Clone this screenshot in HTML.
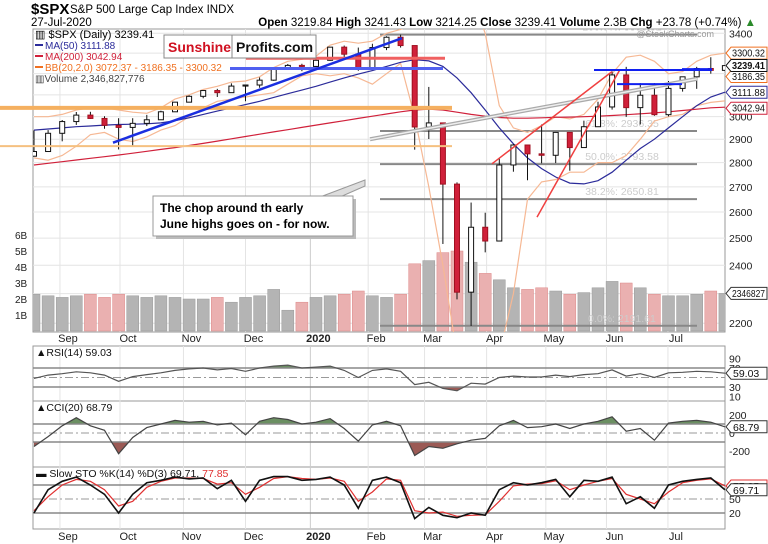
<!DOCTYPE html>
<html><head><meta charset="utf-8"><style>
body{margin:0;background:#fff;width:768px;height:544px;overflow:hidden;font-family:"Liberation Sans",sans-serif}
svg{display:block}
text{font-family:"Liberation Sans",sans-serif}
</style></head><body>
<svg id="c" width="768" height="544" viewBox="0 0 768 544" xmlns="http://www.w3.org/2000/svg">
<text x="31" y="14" font-size="15" font-weight="bold">$SPX</text>
<text x="70" y="13" font-size="11.5">S&amp;P 500 Large Cap Index  INDX</text>
<text x="31" y="26" font-size="11.5">27-Jul-2020</text>
<text x="756" y="26" font-size="11.5" text-anchor="end"><tspan font-weight="bold">Open</tspan> 3219.84 <tspan font-weight="bold">High</tspan> 3241.43 <tspan font-weight="bold">Low</tspan> 3214.25 <tspan font-weight="bold">Close</tspan> 3239.41 <tspan font-weight="bold">Volume</tspan> 2.3B <tspan font-weight="bold">Chg</tspan> +23.78 (+0.74%) <tspan fill="#2a8a2a">▲</tspan></text>
<g id="main"></g>
</svg>
<script>
const weeks=["Aug23","Aug30","Sep6","Sep13","Sep20","Sep27","Oct4","Oct11","Oct18","Oct25","Nov1","Nov8","Nov15","Nov22","Nov29","Dec6","Dec13","Dec20","Dec27","Jan3","Jan10","Jan17","Jan24","Jan31","Feb7","Feb14","Feb21","Feb28","Mar6","Mar13","Mar20","Mar27","Apr3","Apr9","Apr17","Apr24","May1","May8","May15","May22","May29","Jun5","Jun12","Jun19","Jun26","Jul2","Jul10","Jul17","Jul24","Jul27"];
const closes=[2847,2926,2978,3007,2992,2961,2952,2970,2986,3022,3066,3093,3120,3110,3141,3146,3169,3221,3240,3235,3265,3330,3295,3226,3328,3380,3338,2954,2972,2711,2305,2541,2489,2790,2875,2837,2831,2930,2864,2955,3044,3194,3041,3098,3009,3130,3185,3225,3216,3239];
const highs=[2939,2940,2985,3021,3022,3002,2993,2993,3008,3027,3066,3098,3120,3128,3154,3148,3182,3226,3247,3248,3282,3330,3338,3328,3347,3385,3393,3260,3137,2882,2718,2637,2597,2818,2879,2844,2965,2932,2924,2982,3068,3211,3233,3155,3155,3165,3186,3233,3280,3241];
const lows=[2834,2853,2891,2963,2990,2946,2856,2873,2958,2992,3024,3066,3084,3090,3113,3070,3133,3166,3218,3212,3215,3263,3280,3214,3224,3315,3328,2855,2901,2478,2280,2191,2447,2619,2762,2727,2797,2798,2766,2913,2956,3032,2999,2965,3004,3001,3115,3128,3200,3214];
const volumes=[2.3,2.2,2.1,2.2,2.3,2.1,2.3,2.2,2.1,2.2,2.1,2.0,2.0,2.1,1.8,2.1,2.2,2.6,1.3,1.8,2.1,2.2,2.3,2.5,2.2,2.1,2.3,4.2,4.4,4.9,5.0,4.3,3.6,3.2,2.7,2.6,2.7,2.5,2.3,2.4,2.7,3.1,3.0,2.7,2.3,2.2,2.2,2.3,2.5,2.35];
const ma50=[2940,2945,2950,2955,2958,2962,2965,2966,2968,2972,2982,2995,3010,3025,3040,3055,3070,3088,3105,3122,3140,3160,3180,3198,3215,3235,3255,3268,3262,3235,3180,3110,3030,2950,2880,2820,2775,2740,2715,2712,2725,2760,2810,2860,2900,2950,3000,3050,3090,3112];
const ma200=[2790,2797,2804,2811,2818,2825,2832,2840,2848,2856,2864,2873,2882,2892,2902,2912,2922,2932,2942,2952,2962,2972,2982,2992,3002,3012,3022,3030,3034,3030,3020,3010,3002,2996,2993,2993,2995,2997,2998,3000,3002,3005,3009,3013,3017,3022,3028,3034,3040,3043];
const bbUpper=[3000,3000,3010,3030,3040,3040,3030,3020,3015,3040,3080,3100,3125,3140,3160,3165,3185,3230,3260,3270,3285,3340,3360,3350,3360,3400,3420,3450,3550,3650,3700,3600,3400,3050,2950,2930,2960,3000,2990,3010,3080,3200,3280,3290,3260,3200,3210,3260,3290,3300];
const bbLower=[2820,2810,2830,2870,2920,2930,2900,2890,2910,2940,2960,3000,3040,3070,3080,3090,3100,3110,3150,3190,3200,3190,3200,3180,3150,3200,3250,3000,2700,2400,2100,2000,1950,2100,2300,2650,2720,2730,2760,2760,2800,2800,2830,2900,2980,3000,3010,3050,3065,3072];
const rsi=[48,55,58,62,60,55,42,52,56,60,65,68,70,66,69,63,70,74,76,70,72,74,65,50,65,68,63,35,40,27,22,38,36,50,53,51,51,55,52,56,58,66,53,58,50,60,61,63,62,59];
const cci=[-150,-40,80,170,80,30,-230,-50,60,100,140,120,130,90,110,-20,130,170,150,100,120,160,50,-90,90,130,80,-250,-150,-170,-120,-80,-60,80,140,60,70,100,50,100,130,180,20,50,-80,110,130,140,120,69];
const stoK=[20,70,88,97,80,60,20,60,85,90,97,93,95,72,90,45,90,98,98,90,92,97,80,30,90,97,85,8,32,15,10,20,15,70,85,80,85,92,55,90,88,97,40,55,30,80,88,92,95,70];
const stoD=[25,55,80,92,88,70,35,45,75,88,95,95,94,82,85,60,75,94,98,94,92,95,88,45,65,93,90,25,20,22,13,15,16,45,78,82,83,89,70,80,88,94,60,50,40,65,85,90,93,78];
const monthLabels=["Sep","Oct","Nov","Dec","2020","Feb","Mar","Apr","May","Jun","Jul"];
const monthPos=[1.84,6.1,10.6,15.0,19.6,23.7,27.7,32.1,36.3,40.6,44.96];
const priceTicks=[2200,2300,2400,2500,2600,2700,2800,2900,3000,3100,3200,3300,3400];
const volTicks=[1,2,3,4,5,6];
const fibLevels=[3393.52,2936.35,2793.58,2650.81,2191.61];
const fibLabels=["100.0%: 3393.52","61.8%: 2936.35","50.0%: 2793.58","38.2%: 2650.81","0.0%: 2191.61"];

const NS="http://www.w3.org/2000/svg";
const g=document.getElementById('main');
const L=33,R=725,TOP=29;
function xs(i){return 34+i*14.1;}
function ys(p){return 33.3+666*Math.log(3400/p);}
function yv(v){return 331-16*v;}
function mk(tag,attrs,parent){const e=document.createElementNS(NS,tag);for(const k in attrs)e.setAttribute(k,attrs[k]);(parent||g).appendChild(e);return e;}
function tx(s,attrs,parent){const e=mk('text',attrs,parent);e.textContent=s;return e;}
function pathOf(arr,xf,yf){return arr.map((v,i)=>(i?'L':'M')+xf(i).toFixed(1)+' '+yf(v).toFixed(1)).join(' ');}

const defs=mk('defs',{});
const cp=mk('clipPath',{id:'mainclip'},defs);mk('rect',{x:L,y:TOP,width:R-L,height:332-TOP},cp);

const panels=[[TOP,332],[346,401],[401,467],[467,529]];
panels.forEach((p,k)=>{const r=mk('rect',{x:L,y:p[0],width:R-L,height:p[1]-p[0],fill:'#fff',stroke:'#999','stroke-width':1});

});

const grid=mk('g',{stroke:'#e4e4e4','stroke-width':1});


priceTicks.forEach(p=>{mk('line',{x1:L,x2:R,y1:ys(p),y2:ys(p)},grid);});
monthPos.forEach((m,i)=>{panels.forEach(p=>mk('line',{x1:xs(m),x2:xs(m),y1:p[0],y2:p[1],stroke:i==4?'#ccc':'#e4e4e4'},grid));});

priceTicks.forEach(p=>{if([3100,3200,3300].includes(p))return;const t=tx(String(p),{x:729,y:ys(p)+4,'font-size':10.5,fill:'#222'});

});
volTicks.forEach(v=>{const t=tx(v+'B',{x:15,y:yv(v)+4,'font-size':10,fill:'#222'});

});
monthLabels.forEach((m,i)=>{[339,537].forEach(yy=>{const t=tx(m,{x:xs(monthPos[i])+8,y:yy+3,'font-size':11,'text-anchor':'middle','font-weight':i==4?'bold':'normal',fill:'#222'});

});});

const mg=mk('g',{'clip-path':'url(#mainclip)'});
volumes.forEach((v,i)=>{const up=i==0||closes[i]>=closes[i-1];const b=mk('rect',{x:xs(i)-6,y:yv(v),width:12,height:331-yv(v),fill:up?'#b4b4b4':'#eab0b0',stroke:up?'#999':'#d88',"stroke-width":0.5},mg);

});
fibLevels.forEach((f,i)=>{const l=mk('line',{x1:380,x2:697,y1:ys(f),y2:ys(f),stroke:'#888','stroke-width':2},mg);


const t=tx(fibLabels[i],{x:622,y:ys(f)-4,'font-size':10.5,fill:'#ccc','text-anchor':'middle'},mg);

});
[[bbUpper,'bb-upper'],[bbLower,'bb-lower']].forEach(a=>{const p=mk('path',{d:pathOf(a[0],xs,ys),fill:'none',stroke:'#f6b894','stroke-width':1.2},mg);

});
const p50=mk('path',{d:pathOf(ma50,xs,ys),fill:'none',stroke:'#2b2b9a','stroke-width':1.2},mg);


const p200=mk('path',{d:pathOf(ma200,xs,ys),fill:'none',stroke:'#d0203a','stroke-width':1.2},mg);


function ann(x1,p1,x2,p2,col,w,name){const l=mk('line',{x1:x1,y1:ys(p1),x2:x2,y2:ys(p2),stroke:col,'stroke-width':w},g);}
ann(0,3040,452,3040,'#f5b060',4,'support-band');
ann(0,2870,452,2870,'#f5c080',2,'support-line');
ann(246,3275,445,3275,'#f06060',3,'resistance-line');
ann(230,3225,443,3225,'#5060f0',3,'support-line-blue');
ann(113,2885,402,3375,'#1a2ee0',2.5,'trend-line');
ann(370,2900,697,3175,'#aaa',4,'wedge-line');
ann(370,2900,697,3175,'#eee',1.5,'wedge-line-inner');
ann(492,2795,612,3210,'#f04040',1.5,'rally-line-1');
ann(537,2580,620,3220,'#f04040',1.5,'rally-line-2');
ann(594,3218,712,3218,'#1020f0',2,'june-high-line');
ann(617,3150,682,3150,'#1020f0',2,'june-range-line');
ann(682,3222,712,3222,'#1020f0',2,'july-line');
closes.forEach((c,i)=>{const o=i?closes[i-1]:c-20;const up=c>=o;const x=xs(i);
const w=mk('line',{x1:x,x2:x,y1:ys(highs[i]),y2:ys(lows[i]),stroke:'#111','stroke-width':1},mg);


const top=ys(Math.max(o,c)),bot=ys(Math.min(o,c));
const b=mk('rect',{x:x-2.5,y:top,width:5,height:Math.max(1,bot-top),fill:up?'#fff':'#d0203a',stroke:up?'#111':'#a01020','stroke-width':1},mg);

});

const lg=mk('g',{'font-size':10});


tx('▥ $SPX (Daily) 3239.41',{x:35,y:38,'font-family':'Liberation Mono','font-size':11},lg);
mk('rect',{x:35,y:44,width:8,height:2,fill:'#2b2b9a'},lg);tx('MA(50) 3111.88',{x:45,y:49,fill:'#2b2b9a'},lg);
mk('rect',{x:35,y:55,width:8,height:2,fill:'#d0203a'},lg);tx('MA(200) 3042.94',{x:45,y:60,fill:'#d0203a'},lg);
mk('rect',{x:35,y:66,width:8,height:2,fill:'#f07020'},lg);tx('BB(20,2.0) 3072.37 - 3186.35 - 3300.32',{x:45,y:71,fill:'#f07020'},lg);
tx('▥Volume 2,346,827,776',{x:35,y:82,fill:'#444'},lg);
const wm=mk('g',{});


mk('rect',{x:164,y:35,width:152,height:23,fill:'#fff',stroke:'#888'},wm);
mk('line',{x1:232,x2:232,y1:35,y2:58,stroke:'#888'},wm);
tx('Sunshine',{x:168,y:52,'font-size':14,'font-weight':'bold',fill:'#d01020'},wm);
tx('Profits.com',{x:236,y:52,'font-size':14,'font-weight':'bold',fill:'#111'},wm);
const sc=tx('@StockCharts.com',{x:714,y:37,'font-size':9,fill:'#999','text-anchor':'end'});


const co=mk('g',{});


mk('polygon',{points:'320,197 365,180 365,186 340,197',fill:'#ddd',stroke:'#999'},co);
mk('rect',{x:156,y:199,width:200,height:40,fill:'#bbb'},co);
mk('rect',{x:153,y:196,width:200,height:40,fill:'#fff',stroke:'#999'},co);
tx('The chop around th early',{x:160,y:212,'font-size':12,'font-weight':'bold'},co);
tx('June highs goes on - for now.',{x:160,y:228,'font-size':12,'font-weight':'bold'},co);

function box(yy,txt,col,bold,name){const b=mk('g',{});
mk('polygon',{points:`726,${yy} 731,${yy-6} 767,${yy-6} 767,${yy+6} 731,${yy+6}`,fill:'#fff',stroke:col},b);
tx(txt,{x:732,y:yy+3.5,'font-size':bold?9.8:10,'font-weight':bold?'bold':'normal',fill:'#111',textLength:33,lengthAdjust:'spacingAndGlyphs'},b);}
box(ys(3300.32),'3300.32','#f07020',false,'bb-upper-value');
box(ys(3186.35),'3186.35','#f07020',false,'bb-mid-value');
box(ys(3111.88),'3111.88','#2b2b9a',false,'ma50-value');
box(ys(3042.94)+1,'3042.94','#d0203a',false,'ma200-value');
box(ys(3239.41),'3239.41','#111',true,'last-price-value');
box(yv(2.35),'2346827','#333',false,'volume-value');

function yr(v){return 377.5-(v-50)*0.475;}
function yc(v){return 433-v*0.09;}
function yst(v){return 499-(v-50)*0.467;}
function indPanel(arr,yf,hi,lo,mid,top,bot,ticks,label,name,fillAreas){
  const id='cl'+name;const c=mk('clipPath',{id:id},defs);mk('rect',{x:L,y:top,width:R-L,height:bot-top},c);
  const pg=mk('g',{'clip-path':`url(#${id})`});
  const d=pathOf(arr,xs,yf);
  if(fillAreas){
    const ca=mk('clipPath',{id:id+'a'},defs);mk('rect',{x:L,y:top,width:R-L,height:yf(hi)-top},ca);
    const cb=mk('clipPath',{id:id+'b'},defs);mk('rect',{x:L,y:yf(lo),width:R-L,height:bot-yf(lo)},cb);
    mk('path',{d:d+` L${xs(arr.length-1)} ${yf(hi)} L${xs(0)} ${yf(hi)} Z`,fill:'#6b8f62','clip-path':`url(#${id}a)`},pg);
    mk('path',{d:d+` L${xs(arr.length-1)} ${yf(lo)} L${xs(0)} ${yf(lo)} Z`,fill:'#9b5a55','clip-path':`url(#${id}b)`},pg);
  }
  mk('line',{x1:L,x2:R,y1:yf(hi),y2:yf(hi),stroke:'#888','stroke-width':1.5},pg);
  mk('line',{x1:L,x2:R,y1:yf(lo),y2:yf(lo),stroke:'#888','stroke-width':1.5},pg);
  mk('line',{x1:L,x2:R,y1:yf(mid),y2:yf(mid),stroke:'#999','stroke-width':1,'stroke-dasharray':'8,3,2,3'},pg);
  ticks.forEach(t=>{const e=tx(String(t),{x:729,y:yf(t)+4,'font-size':10.5,fill:'#222'});});
  const lb=tx(label,{x:36,y:top+10,'font-size':10.5,fill:'#111'});
  return pg;
}
const rg=indPanel(rsi,yr,70,30,50,346,401,[90,70,30,10],'▲RSI(14) 59.03','rsi',true);
const rl=mk('path',{d:pathOf(rsi,xs,yr),fill:'none',stroke:'#555','stroke-width':1.2},rg);

const cg=indPanel(cci,yc,100,-100,0,401,467,[200,0,-200],'▲CCI(20) 68.79','cci',true);
const cl=mk('path',{d:pathOf(cci,xs,yc),fill:'none',stroke:'#444','stroke-width':1.2},cg);

const sg=indPanel(stoK,yst,80,20,50,467,529,[50,20],'','sto',false);
const sd=mk('path',{d:pathOf(stoD,xs,yst),fill:'none',stroke:'#e03030','stroke-width':1.2},sg);

const sk=mk('path',{d:pathOf(stoK,xs,yst),fill:'none',stroke:'#111','stroke-width':1.6},sg);

const stl=tx('',{x:36,y:477,'font-size':10.5,fill:'#111'});

stl.innerHTML='<tspan font-weight="bold">▬</tspan> Slow STO %K(14) %D(3) 69.71, <tspan fill="#e03030">77.85</tspan>';
function sbox(yy,txt,col,name){const b=mk('g',{});
mk('polygon',{points:`726,${yy} 731,${yy-6} 767,${yy-6} 767,${yy+6} 731,${yy+6}`,fill:'#fff',stroke:col},b);
tx(txt,{x:733,y:yy+4,'font-size':10.5,fill:'#111'},b);}
sbox(yr(59.03),'59.03','#333','rsi-value');
sbox(yc(68.79),'68.79','#333','cci-value');
sbox(yst(77.85),'77.85','#e03030','sto-d-value');
sbox(yst(69.71),'69.71','#333','sto-k-value');
</script>
</body></html>
